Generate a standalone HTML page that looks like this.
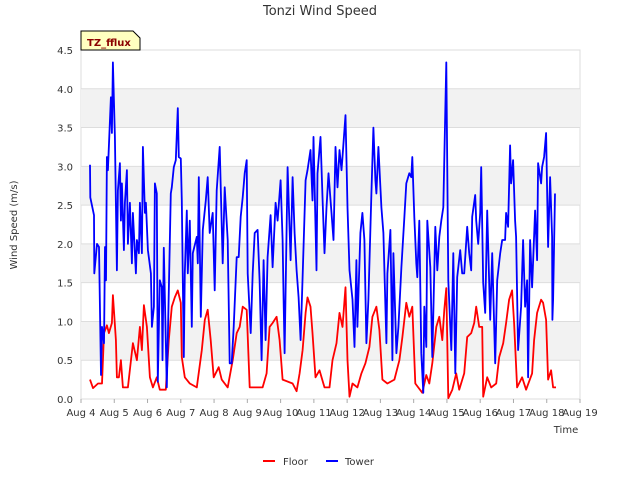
<!DOCTYPE html>
<html><head><meta charset="utf-8"><style>
body{margin:0;background:#fff;}
svg{font-family:"DejaVu Sans","Liberation Sans",sans-serif;}
</style></head><body>
<svg id="c" width="640" height="480">
<text x="320" y="15" text-anchor="middle" font-size="13" fill="#333">Tonzi Wind Speed</text>
<text transform="translate(17,225) rotate(-90)" text-anchor="middle" font-size="10" fill="#333">Wind Speed (m/s)</text>
<text x="566" y="433" text-anchor="middle" font-size="10" fill="#333">Time</text>
<g id="grid"></g><g id="series"></g><g id="axes"></g>
<g>
<line x1="263" y1="461" x2="275" y2="461" stroke="#f00" stroke-width="2"/>
<text x="283" y="465" font-size="10" fill="#333">Floor</text>
<line x1="326" y1="461" x2="338" y2="461" stroke="#00f" stroke-width="2"/>
<text x="345" y="465" font-size="10" fill="#333">Tower</text>
</g>
<g>
<path d="M81,50 L81,31 L133,31 L140,38 L140,50 Z" fill="#ffffc0" stroke="#000" stroke-width="1"/>
<text x="87" y="46" font-size="10" font-weight="bold" fill="#8b0000">TZ_fflux</text>
</g>
</svg>
<script>
const yTicks=[0,0.5,1,1.5,2,2.5,3,3.5,4,4.5];
const xTickLabels=["Aug 4","Aug 5","Aug 6","Aug 7","Aug 8","Aug 9","Aug 10","Aug 11","Aug 12","Aug 13","Aug 14","Aug 15","Aug 16","Aug 17","Aug 18","Aug 19"];
const towerTimes=[0.27,0.28,0.39,0.40,0.48,0.54,0.60,0.63,0.69,0.72,0.75,0.78,0.81,0.90,0.93,0.96,1.02,1.08,1.11,1.17,1.20,1.23,1.29,1.32,1.38,1.41,1.47,1.53,1.56,1.65,1.68,1.74,1.77,1.83,1.86,1.92,1.95,2.01,2.10,2.13,2.19,2.22,2.28,2.31,2.37,2.43,2.45,2.49,2.58,2.61,2.70,2.73,2.79,2.85,2.91,2.94,3.00,3.03,3.09,3.12,3.18,3.21,3.27,3.33,3.36,3.48,3.51,3.54,3.60,3.66,3.75,3.81,3.87,3.96,4.02,4.08,4.17,4.26,4.32,4.41,4.47,4.53,4.59,4.68,4.74,4.80,4.86,4.92,4.98,5.01,5.10,5.16,5.22,5.31,5.37,5.43,5.49,5.55,5.61,5.70,5.76,5.85,5.91,6.00,6.06,6.09,6.12,6.21,6.30,6.36,6.42,6.48,6.54,6.60,6.66,6.75,6.81,6.90,6.96,6.99,7.08,7.11,7.20,7.26,7.32,7.38,7.44,7.53,7.59,7.65,7.71,7.77,7.83,7.86,7.95,8.01,8.07,8.16,8.22,8.28,8.31,8.40,8.46,8.52,8.58,8.64,8.73,8.79,8.85,8.88,8.94,9.03,9.09,9.18,9.21,9.30,9.36,9.39,9.48,9.54,9.63,9.72,9.78,9.87,9.93,9.96,10.02,10.08,10.11,10.17,10.23,10.29,10.32,10.38,10.41,10.50,10.56,10.65,10.71,10.77,10.83,10.89,10.98,11.04,11.13,11.19,11.25,11.31,11.40,11.46,11.52,11.61,11.67,11.73,11.76,11.85,11.88,11.94,12.00,12.03,12.09,12.15,12.21,12.30,12.36,12.45,12.51,12.60,12.66,12.75,12.78,12.84,12.90,12.93,12.99,13.05,13.08,13.14,13.23,13.29,13.35,13.41,13.44,13.50,13.56,13.65,13.71,13.74,13.83,13.86,13.92,13.98,14.04,14.10,14.16,14.17,14.19,14.25];
const towerValues=[3.02,2.6,2.37,1.62,2.0,1.96,0.31,0.93,0.72,1.96,1.53,3.12,2.95,3.89,3.43,4.34,3.38,1.66,2.69,3.04,2.3,2.78,1.92,2.53,2.95,2.0,2.53,1.75,2.4,1.62,2.05,1.88,2.53,1.88,3.25,2.4,2.53,1.92,1.62,0.93,1.19,2.78,2.65,0.22,1.53,1.44,0.5,1.95,0.15,0.76,2.65,2.73,2.99,3.08,3.75,3.12,3.1,2.56,0.54,1.62,2.43,1.62,2.3,0.93,1.88,2.09,1.75,2.86,1.06,2.18,2.56,2.86,2.14,2.4,1.4,2.69,3.25,1.75,2.73,2.05,0.46,0.46,0.93,1.83,1.83,2.35,2.6,2.91,3.08,1.62,0.85,1.62,2.14,2.18,1.53,0.5,1.79,0.76,1.83,2.37,1.7,2.53,2.3,2.82,2.05,1.28,0.59,2.99,1.79,2.86,2.14,1.66,1.31,0.76,1.57,2.82,2.95,3.21,2.56,3.38,1.66,2.91,3.38,2.6,1.88,2.47,2.91,2.4,2.05,3.25,2.73,3.21,2.95,3.12,3.66,2.47,1.66,1.28,0.67,1.79,0.93,2.14,2.4,2.05,0.72,1.28,2.65,3.5,2.82,2.65,3.25,2.47,2.14,0.72,1.62,2.18,0.5,1.88,0.59,0.93,1.7,2.35,2.78,2.91,2.86,3.12,2.35,1.75,1.57,2.3,0.59,0.08,1.19,0.67,2.3,1.7,0.54,2.22,1.66,2.09,2.3,2.47,4.34,1.53,0.63,1.88,0.33,1.57,1.92,1.62,1.62,2.22,1.88,1.66,2.35,2.63,2.3,2.0,2.4,2.99,1.5,1.11,2.43,1.02,1.88,0.46,1.53,1.88,2.05,2.05,2.4,2.22,3.27,2.78,3.08,2.3,2.09,0.63,1.19,2.05,1.19,1.53,0.28,2.05,1.44,2.43,1.79,3.04,2.78,2.99,3.12,3.43,1.96,2.86,2.09,1.02,1.28,2.65];
const floorTimes=[0.27,0.36,0.51,0.63,0.69,0.78,0.84,0.93,0.96,1.05,1.08,1.14,1.20,1.26,1.41,1.56,1.68,1.77,1.83,1.89,1.98,2.07,2.16,2.28,2.37,2.55,2.64,2.73,2.82,2.91,3.00,3.03,3.12,3.27,3.48,3.63,3.72,3.81,3.90,3.99,4.14,4.23,4.41,4.56,4.68,4.77,4.86,4.98,5.07,5.46,5.58,5.67,5.76,5.88,5.97,6.06,6.36,6.48,6.57,6.66,6.75,6.81,6.90,6.96,7.05,7.17,7.32,7.47,7.56,7.68,7.77,7.86,7.95,8.01,8.07,8.16,8.31,8.43,8.55,8.67,8.76,8.88,8.97,9.06,9.21,9.42,9.57,9.66,9.78,9.87,9.96,10.05,10.26,10.38,10.47,10.56,10.68,10.77,10.86,10.92,10.98,11.04,11.16,11.28,11.37,11.52,11.61,11.73,11.82,11.88,11.97,12.06,12.09,12.21,12.33,12.48,12.57,12.69,12.78,12.87,12.96,13.02,13.11,13.26,13.38,13.56,13.62,13.71,13.83,13.89,13.98,14.04,14.13,14.19,14.28];
const floorValues=[0.25,0.14,0.2,0.2,0.85,0.95,0.85,0.98,1.34,0.76,0.28,0.28,0.5,0.15,0.15,0.72,0.5,0.93,0.63,1.21,0.93,0.28,0.15,0.28,0.12,0.12,0.76,1.19,1.31,1.4,1.24,0.54,0.28,0.2,0.15,0.63,1.02,1.15,0.76,0.28,0.41,0.25,0.15,0.5,0.85,0.93,1.19,1.15,0.15,0.15,0.33,0.93,0.98,1.06,0.76,0.25,0.2,0.1,0.33,0.63,1.11,1.31,1.19,0.85,0.28,0.37,0.15,0.15,0.5,0.72,1.11,0.93,1.44,0.5,0.03,0.2,0.15,0.33,0.46,0.67,1.06,1.19,0.89,0.25,0.2,0.25,0.5,0.8,1.24,1.06,1.19,0.2,0.08,0.31,0.2,0.46,0.93,1.06,0.76,1.15,1.43,0.01,0.12,0.33,0.12,0.33,0.8,0.85,0.98,1.19,0.93,0.93,0.03,0.28,0.15,0.2,0.54,0.72,0.98,1.28,1.4,0.98,0.15,0.28,0.12,0.33,0.76,1.11,1.28,1.24,1.02,0.25,0.37,0.15,0.15];

const NS="http://www.w3.org/2000/svg";
const X0=81,X1=580,Y0=399,Y1=50,XMAX=15,YMAX=4.5;
const xs=d=>X0+(X1-X0)*d/XMAX;
const ys=v=>Y0-(Y0-Y1)*v/YMAX;
function mk(tag,attrs,parent){const e=document.createElementNS(NS,tag);for(const k in attrs)e.setAttribute(k,attrs[k]);parent.appendChild(e);return e;}
const grid=document.getElementById('grid'),axes=document.getElementById('axes'),ser=document.getElementById('series');
const bg=mk('rect',{x:X0,y:Y1,width:X1-X0,height:Y0-Y1,fill:'#fff',stroke:'#ddd'},grid);


for(let i=0;i<yTicks.length-1;i++){
  if(i%2===1){
    const b=mk('rect',{x:X0,y:ys(yTicks[i+1]),width:X1-X0,height:ys(yTicks[i])-ys(yTicks[i+1]),fill:'#f2f2f2'},grid);
    
    
  }
}
yTicks.forEach(t=>{
  const l=mk('line',{x1:X0,x2:X1,y1:ys(t),y2:ys(t),stroke:'#ddd'},grid);
  
  
  const tx=mk('text',{x:X0-8,y:ys(t)+4,'text-anchor':'end','font-size':10,fill:'#333'},axes);
  tx.textContent=t.toFixed(1);
  
  
});
xTickLabels.forEach((lab,i)=>{
  const tk=mk('line',{x1:xs(i),x2:xs(i),y1:Y0,y2:Y0+4,stroke:'#aaa'},axes);
  
  
  const tx=mk('text',{x:xs(i),y:Y0+17,'text-anchor':'middle','font-size':10,fill:'#333'},axes);
  tx.textContent=lab;
  
  
});
function line(times,vals,color,name){
  const d=times.map((t,i)=>(i?'L':'M')+xs(t).toFixed(1)+','+ys(vals[i]).toFixed(1)).join('');
  const p=mk('path',{d:d,fill:'none',stroke:color,'stroke-width':1.8,'stroke-linejoin':'round'},ser);
  
  
}
line(floorTimes,floorValues,'#f00','floor-line');
line(towerTimes,towerValues,'#00f','tower-line');
</script>
</body></html>
